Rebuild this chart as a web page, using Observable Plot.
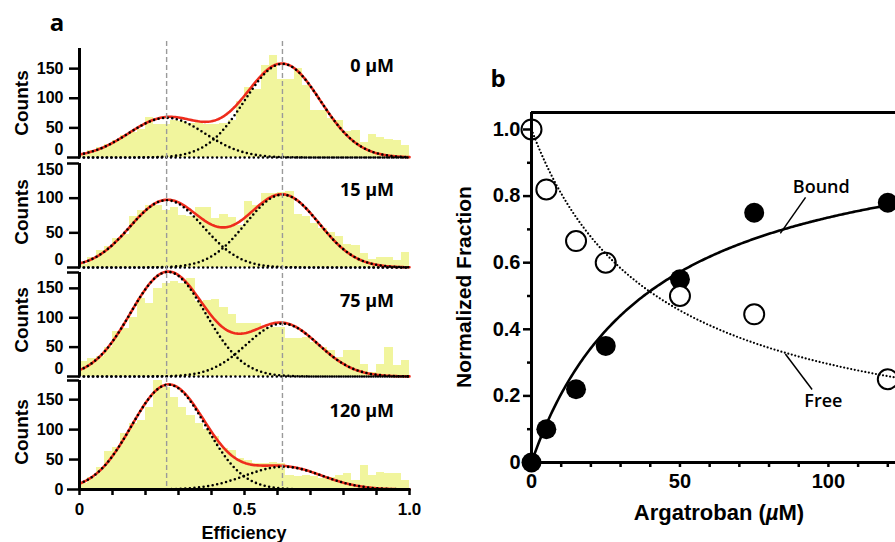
<!DOCTYPE html>
<html><head><meta charset="utf-8">
<script src="https://cdn.jsdelivr.net/npm/d3@7"></script>
<script src="https://cdn.jsdelivr.net/npm/@observablehq/plot@0.6"></script>
<style>
html,body{margin:0;padding:0;background:#fff;}
body{width:895px;height:542px;overflow:hidden;position:relative;}
.t{position:absolute;white-space:nowrap;color:#000;line-height:1;}
.sans{font-family:"Liberation Sans",Arial,sans-serif;font-weight:bold;}
.open{font-family:"Open Sans",sans-serif;font-weight:700;}
.rot{transform:translate(-50%,-50%) rotate(-90deg);}
.ctr{transform:translate(-50%,-50%);}
.rgt{transform:translate(-100%,-50%);}
</style></head><body>
<script>
// ---------------- DATA ----------------
const concentrations = ["0 µM", "15 µM", "75 µM", "120 µM"];
const binWidth = 0.025;
const counts0   = [4,12,17,22,29,37,42,48,67,55, 55,62,60,58,60,56,55,57,62,95, 119,115,156,173,132,132,150,121,80,79, 65,63,44,45,26,38,34,31,28,21];
const counts15  = [5,14,24,31,42,48,74,82,90,90, 82,87,75,74,86,87,71,76,72,60, 95,90,107,107,108,110,76,74,64,56, 50,44,33,32,20,12,15,15,10,21];
const counts75  = [25,30,34,50,76,82,100,132,124,150, 158,161,159,166,127,130,131,118,105,90, 90,90,84,83,83,64,64,67,58,50, 44,32,44,44,20,7,20,49,19,28];
const counts120 = [10,20,37,64,70,93,110,115,137,182, 170,154,137,123,110,100,88,68,65,51, 48,43,43,45,43,23,21,23,21,18, 20,24,26,15,40,23,29,27,26,15];
const histograms = [counts0, counts15, counts75, counts120];

// Gaussian fit parameters (low-FRET and high-FRET populations)
const lowAmp     = [67, 97, 178, 175];
const lowCenter  = [0.264, 0.264, 0.268, 0.27];
const lowSigma   = [0.116, 0.111, 0.1135, 0.1125];
const highAmp    = [158, 105, 90, 38];
const highCenter = [0.615, 0.615, 0.615, 0.618];
const highSigma  = [0.115, 0.111, 0.109, 0.117];
const peakCenters = [0.264, 0.615];

const yTicksA = [0, 50, 100, 150];
const xTicksA = [0, 0.1, 0.2, 0.3, 0.4, 0.5, 0.6, 0.7, 0.8, 0.9, 1.0];
const xTickLabelsA = ["0", "", "", "", "", "0.5", "", "", "", "", "1.0"];

// Panel b
const argatroban = [0, 5, 15, 25, 50, 75, 120];
const boundFraction = [0, 0.10, 0.22, 0.35, 0.55, 0.75, 0.78];
const freeFraction  = [1.0, 0.82, 0.665, 0.60, 0.50, 0.445, 0.25];
const boundFit = {max: 1.03, kd: 40};
const freeFit = {kd: 42};
const yTicksB = [0, 0.2, 0.4, 0.6, 0.8, 1.0];
const yTickLabelsB = ["0", "0.2", "0.4", "0.6", "0.8", "1.0"];
const yMinorB = [0.1, 0.3, 0.5, 0.7, 0.9];
const xTicksB = [0, 50, 100];
const xMinorB = [10, 20, 30, 40, 60, 70, 80, 90, 110, 120];
const annotations = [
  {label: "Bound", x1: 83.8, y1: 0.688, x2: 92.3, y2: 0.796, tx: 97.6, ty: 0.826},
  {label: "Free",  x1: 85.5, y1: 0.326, x2: 94.5, y2: 0.219, tx: 98.3, ty: 0.183}
];

// ---------------- STYLE / LAYOUT ----------------
const barColor = "#f1f59d";
const redColor = "#ee2c1c";
const dotted = {stroke: "black", strokeWidth: 2.6, strokeDasharray: "0,4.6", strokeLinecap: "round"};
const fontA = {fontFamily: "Liberation Sans, Arial, sans-serif", fontWeight: "bold", fontSize: 16};
const layoutA = [
  {axisTop: 48,  baseline: 157, yMax: 184},
  {axisTop: 163, baseline: 267, yMax: 150},
  {axisTop: 272, baseline: 376, yMax: 177},
  {axisTop: 380, baseline: 489, yMax: 182}
];
const zeroShift = [-8, -8, -8, 0];
const topShift = [0, 6, 0, 0];

function place(el, left, top) {
  el.style.position = "absolute";
  el.style.left = left + "px";
  el.style.top = top + "px";
  document.body.appendChild(el);
}
function label(text, cls, x, y, size, extra) {
  const d = document.createElement("div");
  d.className = "t " + cls;
  d.style.left = x + "px"; d.style.top = y + "px"; d.style.fontSize = size + "px";
  if (extra) Object.assign(d.style, extra);
  d.innerHTML = text;
  document.body.appendChild(d);
}

const grid = d3.range(0, 201).map(i => i / 200);
const gauss = (a, m, s, e) => a * Math.exp(-((e - m) ** 2) / (2 * s * s));

histograms.forEach((counts, i) => {
  const L = layoutA[i];
  const mt = 10, mb = i < 3 ? 4 : 50;
  const height = L.baseline - L.axisTop + mt + mb;
  const bins = counts.map((c, k) => ({x1: k * binWidth, x2: (k + 1) * binWidth, count: c}));
  const curve = grid.map(e => {
    const low = gauss(lowAmp[i], lowCenter[i], lowSigma[i], e);
    const high = gauss(highAmp[i], highCenter[i], highSigma[i], e);
    return {e, low, high, sum: low + high};
  });
  const normal = yTicksA.filter(v => v > 0 && v < L.yMax);
  const marks = [
    Plot.rectY(bins, {x1: "x1", x2: "x2", y: "count", fill: barColor, shapeRendering: "crispEdges"}),
    Plot.line(curve, {x: "e", y: "sum", stroke: redColor, strokeWidth: 2.6}),
    Plot.line(curve, {x: "e", y: "low", ...dotted}),
    Plot.line(curve, {x: "e", y: "high", ...dotted}),
    i < 3 ? Plot.ruleY([0], dotted) : Plot.ruleY([0], {stroke: "black", strokeWidth: 3}),
    Plot.ruleX([0], {stroke: "black", strokeWidth: 3}),
    Plot.axisY(normal, {tickSize: 10, tickPadding: 6, strokeWidth: 2.5, label: null, ...fontA}),
    Plot.axisY([0], {tickSize: 12, strokeWidth: 2.5, tickFormat: () => "", label: null}),
    Plot.text([0], {y: d => d, text: d => String(d), frameAnchor: "left", textAnchor: "end", dx: -16, dy: zeroShift[i], ...fontA})
  ];
  if (i > 0) {
    marks.push(Plot.axisY([L.yMax], {tickSize: 12, strokeWidth: 2.5, tickFormat: () => "", label: null}));
  }
  if (topShift[i] !== 0) {
    marks.push(Plot.text([150], {y: d => d, text: d => String(d), frameAnchor: "left", textAnchor: "end", dx: -16, dy: topShift[i], ...fontA}));
  }
  if (i === 3) {
    marks.push(Plot.axisX(xTicksA, {tickSize: 6, tickPadding: 7, strokeWidth: 2.5, label: null,
      tickFormat: (d, k) => xTickLabelsA[k], ...fontA, fontSize: 17}));
  }
  const svg = Plot.plot({
    width: 430, height, marginLeft: 79, marginRight: 21, marginTop: mt, marginBottom: mb,
    x: {domain: [0, 1], axis: i === 3 ? undefined : null},
    y: {domain: [0, L.yMax]},
    style: {background: "transparent", overflow: "visible"},
    marks
  });
  place(svg, 0, L.axisTop - mt);
});

// dashed guide lines across all histograms
{
  const svg = Plot.plot({
    width: 430, height: 448, marginLeft: 79, marginRight: 21, marginTop: 0, marginBottom: 0,
    x: {domain: [0, 1], axis: null},
    style: {background: "transparent", overflow: "visible"},
    marks: [Plot.ruleX(peakCenters, {stroke: "#9a9a9a", strokeWidth: 1.4, strokeDasharray: "5,3"})]
  });
  svg.style.pointerEvents = "none";
  place(svg, 0, 41);
}

// Panel a texts
label("a", "open", 57, 22, 24, {transform: "translate(-50%,-50%)"});
[103, 212, 320, 432].forEach(y => label("Counts", "sans rot", 21, y, 19));
[65, 189, 300, 410].forEach((y, i) => label(concentrations[i], "open rgt", 394, y, 18));
label("Efficiency", "sans ctr", 244, 533, 18);

// ---------------- PANEL b ----------------
{
  const yTop = 1.051;
  const fitX = d3.range(0, 261).map(i => i / 2);
  const boundCurve = fitX.map(x => ({x, y: boundFit.max * x / (boundFit.kd + x)}));
  const freeCurve = fitX.map(x => ({x, y: freeFit.kd / (freeFit.kd + x)}));
  const pts = argatroban.map((x, k) => ({x, bound: boundFraction[k], free: freeFraction[k]}));
  const fontB = {fontFamily: "Liberation Sans, Arial, sans-serif", fontWeight: "bold", fontSize: 20};
  const svg = Plot.plot({
    width: 477, height: 402, marginLeft: 91, marginRight: 0, marginTop: 12, marginBottom: 40,
    x: {domain: [0, 130]},
    y: {domain: [0, yTop]},
    style: {background: "transparent", overflow: "visible"},
    marks: [
      Plot.dot(pts, {x: "x", y: "bound", r: 10, fill: "black"}),
      Plot.dot(pts, {x: "x", y: "free", r: 10, fill: "white", stroke: "black", strokeWidth: 2}),
      Plot.line(boundCurve, {x: "x", y: "y", stroke: "black", strokeWidth: 2.6}),
      Plot.line(freeCurve, {x: "x", y: "y", stroke: "black", strokeWidth: 2.2, strokeDasharray: "0,3.6", strokeLinecap: "round"}),
      Plot.link(annotations, {x1: "x1", y1: "y1", x2: "x2", y2: "y2", stroke: "black", strokeWidth: 1.5}),
      Plot.text(annotations, {x: "tx", y: "ty", text: "label", fontFamily: "Open Sans, sans-serif", fontWeight: 600, fontSize: 18}),
      Plot.ruleX([0], {stroke: "black", strokeWidth: 3}),
      Plot.ruleY([0], {stroke: "black", strokeWidth: 3}),
      Plot.ruleY([yTop], {stroke: "black", strokeWidth: 3}),
      Plot.axisY(yTicksB, {tickSize: 8, tickPadding: 3, strokeWidth: 2.5, label: null, tickFormat: (d, k) => yTickLabelsB[k], ...fontB}),
      Plot.axisY(yMinorB, {tickSize: 4, strokeWidth: 2.5, label: null, tickFormat: () => ""}),
      Plot.axisX(xTicksB, {tickSize: 5, tickPadding: 6, strokeWidth: 2.5, label: null, ...fontB}),
      Plot.axisX(xMinorB, {tickSize: 5, strokeWidth: 2.5, label: null, tickFormat: () => ""})
    ]
  });
  place(svg, 440, 100);
}
label("b", "open", 498, 78, 24, {transform: "translate(-50%,-50%)"});
label("Normalized Fraction", "sans rot", 463, 287, 21);
label("Argatroban (<i>µ</i>M)", "sans ctr", 719, 513, 22);
</script>
</body></html>
